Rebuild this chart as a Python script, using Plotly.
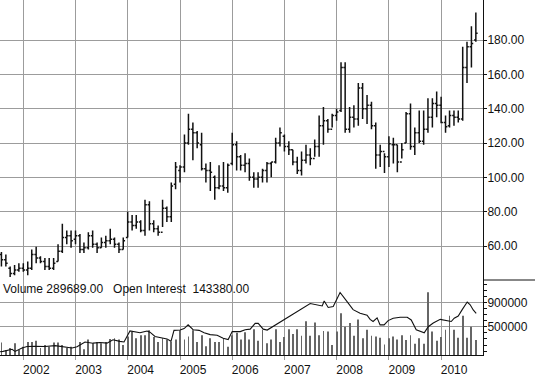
import pandas as pd
import plotly.graph_objects as go

# ---------------- data (monthly bars, Aug 2001 - Sep 2010) ----------------
months = pd.date_range("2001-08-01", periods=110, freq="MS")

highs = [56.5, 55, 48, 49, 50,
         50, 51, 58, 59.5, 54, 53, 53, 53, 61, 73, 69, 69,
         69, 67, 62, 68, 69, 62, 65, 66, 70, 65, 62, 65,
         80, 78, 78, 75, 87, 86, 75, 72, 87, 83, 97, 109,
         107, 125, 137, 132, 127, 126, 108, 109, 101, 107, 109, 108,
         126, 121, 113, 114, 111, 103, 103, 105, 109, 109, 123, 129,
         125, 121, 116, 112, 115, 119, 117, 122, 136, 141, 134, 137,
         140, 167, 167, 141, 142, 155, 155, 148, 144, 132, 119, 114,
         124, 123, 119, 120, 138, 143, 129, 139, 139, 146, 146, 150,
         147, 136, 139, 139, 139, 176, 179, 188, 196]
lows = [48, 48, 42, 43, 45,
        45, 43, 46, 50, 50, 46, 46, 46, 51, 56, 61, 59,
        61, 56, 56, 58, 59, 56, 59, 59, 61, 59, 56, 58,
        65, 69, 70, 68, 66, 69, 68, 66, 71, 74, 74, 93,
        97, 103, 119, 110, 117, 104, 97, 92, 87, 93, 92, 91,
        107, 104, 104, 103, 98, 94, 94, 97, 97, 100, 108, 118,
        115, 113, 107, 102, 101, 108, 107, 112, 112, 119, 126, 129,
        133, 138, 126, 126, 129, 130, 134, 131, 128, 105, 106, 102.5,
        106, 108, 103, 111, 120, 116, 113, 120, 119, 126, 129, 135,
        131.5, 126, 129, 130, 132, 133, 155, 164, 179]
opens = [55, 52, 47, 44, 46,
         47, 46, 47, 55, 53, 51, 48, 47, 51, 57, 65, 66,
         64, 66, 58, 59, 66, 61, 59, 62, 63, 64, 61, 58,
         65, 74, 72, 74, 69, 84, 73, 70, 68, 82, 77, 96,
         104, 106, 120, 128, 126, 119, 105, 104, 100, 94, 95, 94,
         108, 119, 112, 107, 108, 100, 99, 100, 104, 108, 109, 120,
         124, 118, 116, 109, 104, 110, 113, 111, 118, 130, 133, 128,
         136, 139, 164, 128, 135, 134, 152, 140, 142, 130, 113, 115,
         112, 119, 119, 109, 120, 137, 118, 126, 121, 128, 135, 143,
         142, 132, 130, 136, 135, 134, 164, 176, 180]
closes = [52, 50, 44, 46, 47,
          46, 47, 55, 53, 51, 48, 47, 50, 57, 65, 66, 63,
          66, 58, 59, 66, 61, 59, 62, 63, 64, 61, 58, 63,
          74, 72, 74, 69, 84, 73, 70, 68, 82, 77, 95, 106,
          106, 120, 128, 126, 120, 105, 104, 103, 94, 95, 94, 107,
          119, 112, 107, 108, 100, 99, 100, 104, 108, 109, 120, 126,
          118, 116, 109, 104, 110, 113, 111, 118, 130, 133, 128, 136,
          138, 164, 128, 135, 134, 152, 140, 142, 130, 113, 115, 112,
          119.5, 119, 109, 116, 137, 118, 126, 121, 128, 135, 143, 142,
          132, 129.5, 136, 135, 134, 164, 176, 178, 184]
volume = [240000, 120000, 150000, 230000, 120000,
          170000, 250000, 250000, 270000, 150000, 200000, 170000, 240000, 240000, 200000, 150000, 170000,
          170000, 250000, 130000, 290000, 230000, 250000, 230000, 250000, 300000, 310000, 290000, 200000,
          340000, 420000, 310000, 360000, 360000, 440000, 330000, 250000, 310000, 290000, 250000, 290000,
          440000, 290000, 340000, 440000, 250000, 360000, 180000, 310000, 250000, 250000, 310000, 170000,
          360000, 400000, 290000, 410000, 290000, 460000, 270000, 450000, 230000, 290000, 460000, 250000,
          330000, 460000, 380000, 460000, 350000, 590000, 350000, 570000, 360000, 430000, 420000, 200000,
          420000, 720000, 500000, 560000, 350000, 620000, 310000, 450000, 350000, 340000, 320000, 210000,
          310000, 340000, 290000, 360000, 280000, 360000, 220000, 310000, 220000, 1065000, 420000, 270000,
          330000, 450000, 680000, 450000, 320000, 680000, 320000, 500000, 280000]

# open interest (decimal-year dates, values)
oi_t = [2001.554, 2001.611, 2001.784, 2001.841, 2001.975, 2002.071, 2002.224, 2002.416,
        2002.607, 2002.837, 2002.933, 2003.029, 2003.182, 2003.335, 2003.469, 2003.603,
        2003.718, 2003.849, 2003.929, 2004.044, 2004.121, 2004.236, 2004.370, 2004.427,
        2004.523, 2004.657, 2004.753, 2004.829, 2004.887, 2005.002, 2005.079, 2005.155,
        2005.251, 2005.366, 2005.462, 2005.577, 2005.711, 2005.826, 2005.922, 2006.000,
        2006.154, 2006.248, 2006.344, 2006.440, 2006.498, 2006.594, 2006.670, 2007.494,
        2007.628, 2007.724, 2007.762, 2007.839, 2007.935, 2008.067, 2008.201, 2008.316,
        2008.450, 2008.584, 2008.642, 2008.699, 2008.776, 2008.833, 2008.910, 2008.987,
        2009.082, 2009.216, 2009.351, 2009.427, 2009.523, 2009.619, 2009.676, 2009.753,
        2009.849, 2009.983, 2010.098, 2010.194, 2010.251, 2010.328, 2010.404, 2010.500,
        2010.557, 2010.615, 2010.672]
oi = [90000, 95000, 130000, 95000, 150000, 175000, 180000, 175000,
      190000, 165000, 150000, 170000, 250000, 230000, 240000, 230000,
      285000, 260000, 250000, 430000, 420000, 400000, 430000, 410000,
      340000, 320000, 300000, 260000, 440000, 445000, 470000, 530000,
      450000, 440000, 400000, 370000, 360000, 310000, 290000, 420000,
      420000, 450000, 460000, 555000, 555000, 460000, 445000, 880000,
      860000, 840000, 920000, 815000, 830000, 1060000, 910000, 780000,
      720000, 690000, 620000, 585000, 645000, 530000, 530000, 600000,
      640000, 655000, 655000, 610000, 450000, 420000, 400000, 500000,
      560000, 620000, 605000, 585000, 640000, 675000, 780000, 905000,
      860000, 775000, 720000]

price_ticks = [60, 80, 100, 120, 140, 160, 180]
vol_ticks = [500000, 900000]
header_text = "Volume 289689.00   Open Interest  143380.00"


def dec_to_date(t):
    y = int(t)
    return pd.Timestamp(year=y, month=1, day=1) + pd.Timedelta(days=(t - y) * 365.25)


oi_dates = [dec_to_date(t) for t in oi_t]

FONT = "Liberation Sans, Arial, sans-serif"
FS = 12
GRID = "#9c9c9c"
split = (355 - 280) / 355.0

fig = go.Figure()
fig.add_trace(go.Ohlc(
    x=months, open=opens, high=highs, low=lows, close=closes,
    increasing=dict(line=dict(color="#111111", width=1.5)),
    decreasing=dict(line=dict(color="#111111", width=1.5)),
    tickwidth=0.45, xaxis="x", yaxis="y", showlegend=False,
))
fig.add_trace(go.Bar(
    x=months, y=volume, width=6 * 86400000, marker=dict(color="#666666", line=dict(width=0)),
    xaxis="x", yaxis="y2", showlegend=False,
))
fig.add_trace(go.Scatter(
    x=oi_dates, y=oi, mode="lines", line=dict(color="#111111", width=1.1),
    xaxis="x", yaxis="y2", showlegend=False,
))

fig.update_layout(
    width=535, height=379,
    margin=dict(l=0, r=52, t=0, b=24),
    paper_bgcolor="white", plot_bgcolor="white",
    font=dict(family=FONT, size=FS, color="#111111"),
    showlegend=False,
    hovermode=False,
    xaxis=dict(
        domain=[0, 1], anchor="y2", type="date",
        range=["2001-07-22", "2010-10-21"],
        tick0="2002-01-01", dtick="M12", tickformat="%Y",
        showgrid=True, gridcolor=GRID, gridwidth=1,
        ticks="outside", ticklen=4, tickcolor=GRID,
        showline=True, linecolor="#111111", linewidth=1,
        ticklabelshift=13,
        rangeslider=dict(visible=False),
        tickfont=dict(family=FONT, size=FS, color="#111111"),
    ),
    yaxis=dict(
        domain=[split, 1], anchor="x", side="right",
        range=[40.2, 203.3],
        tickmode="array", tickvals=price_ticks,
        ticktext=[f"{v:.2f}" for v in price_ticks],
        showgrid=True, gridcolor=GRID, gridwidth=1, zeroline=False,
        ticks="outside", ticklen=3, tickcolor="#111111",
        ticklabelstandoff=-2,
        showline=True, linecolor="#111111", linewidth=1,
        tickfont=dict(family=FONT, size=FS, color="#111111"),
    ),
    yaxis2=dict(
        domain=[0, split], anchor="x", side="right",
        range=[36000, 1265600],
        tickmode="array", tickvals=vol_ticks,
        ticktext=[str(v) for v in vol_ticks],
        showgrid=True, gridcolor=GRID, gridwidth=1, zeroline=False,
        ticks="outside", ticklen=3, tickcolor="#111111",
        ticklabelstandoff=-2,
        showline=True, linecolor="#111111", linewidth=1,
        minor=dict(tickmode="array", tickvals=[v * 100000 for v in range(1, 13)],
                   ticks="outside", ticklen=3, tickcolor="#111111", showgrid=False),
        tickfont=dict(family=FONT, size=FS, color="#111111"),
    ),
    shapes=[dict(type="line", xref="paper", yref="paper", x0=1, x1=1.12,
                 y0=split, y1=split, line=dict(color="#111111", width=1))],
    annotations=[dict(text=header_text, xref="paper", yref="paper", x=0, y=(355 - 289) / 355.0,
                      xanchor="left", yanchor="middle", xshift=1, showarrow=False,
                      font=dict(family=FONT, size=FS, color="#111111"))],
)

fig.write_html("out.html", config={"displayModeBar": False},
               post_script="document.body.style.margin='0';")
